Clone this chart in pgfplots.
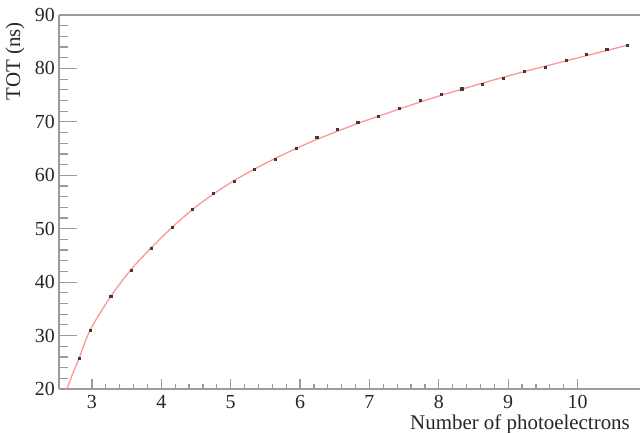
\documentclass[border=0pt]{standalone}
\usepackage{fontspec}
\setmainfont{Liberation Serif}
\usepackage{pgfplots}
\pgfplotsset{compat=1.18}
\definecolor{axgray}{RGB}{155,155,155}
\definecolor{fitred}{RGB}{255,150,150}
\definecolor{ptgray}{RGB}{60,60,60}

% measured points
\pgfplotstableread{
x     y
2.81  25.7
2.97  31.0
3.27  37.3
3.56  42.3
3.86  46.3
4.16  50.2
4.45  53.7
4.75  56.7
5.05  58.9
5.34  61.1
5.64  63.0
5.94  65.1
6.24  67.2
6.54  68.6
6.83  69.9
7.13  71.1
7.43  72.6
7.73  74.0
8.03  75.2
8.33  76.2
8.63  77.1
8.93  78.2
9.23  79.4
9.53  80.3
9.83  81.5
10.13 82.6
10.42 83.6
10.72 84.4
}\tot

% fitted curve
\pgfplotstableread{
x     y
2.64  20.0
2.72  22.8
2.81  25.6
2.97  30.9
3.27  37.3
3.56  42.3
3.86  46.5
4.16  50.3
4.45  53.6
4.75  56.5
5.05  59.0
5.34  61.15
5.64  63.15
5.94  65.0
6.24  66.7
6.54  68.25
6.83  69.7
7.13  71.05
7.43  72.4
7.73  73.7
8.03  74.95
8.33  76.1
8.63  77.25
8.93  78.35
9.23  79.4
9.53  80.4
9.83  81.4
10.13 82.4
10.42 83.35
10.75 84.45
}\fit

\begin{document}
\begin{tikzpicture}
\begin{axis}[
    scale only axis,
    width=581bp, height=374bp,
    xmin=2.525, xmax=10.9,
    ymin=20, ymax=90,
    axis x line=bottom, axis y line=left,
    axis line style={-, axgray, line width=1.6bp},
    xtick={3,4,...,10}, ytick={20,30,...,90},
    minor x tick num=4, minor y tick num=4,
    tick align=inside,
    tick style={axgray, line width=1.2bp},
    major tick length=18bp, minor tick length=9bp,
    major x tick style={/pgfplots/major tick length=10bp},
    minor x tick style={/pgfplots/minor tick length=5bp},
    /pgf/number format/assume math mode=true,
    ticklabel style={font=\fontsize{20}{20}\selectfont, text=black!85, inner sep=0pt},
    yticklabel style={xshift=-4bp},
    xticklabel style={yshift=-6bp},
    xlabel={Number of photoelectrons},
    ylabel={TOT (ns)},
    label style={font=\fontsize{21}{21}\selectfont, text=black!85, inner sep=0pt},
    xlabel style={at={(rel axis cs:0.9828,-0.107)}, anchor=base east},
    ylabel style={at={(rel axis cs:-0.0757,0.9813)}, anchor=east},
    clip=true,
]
\addplot[fitred, line width=1.3bp, smooth, no markers] table[x=x,y=y] {\fit};
\addplot[only marks, mark=square*, mark size=1.05bp, ptgray] table[x=x,y=y] {\tot};
\draw[axgray, line width=1.6bp] (rel axis cs:0,1) -- (rel axis cs:1,1);
\end{axis}
\pgfresetboundingbox
\path ([xshift=-59bp,yshift=-44bp]current axis.south west) rectangle ([yshift=15bp]current axis.north east);
\end{tikzpicture}
\end{document}
